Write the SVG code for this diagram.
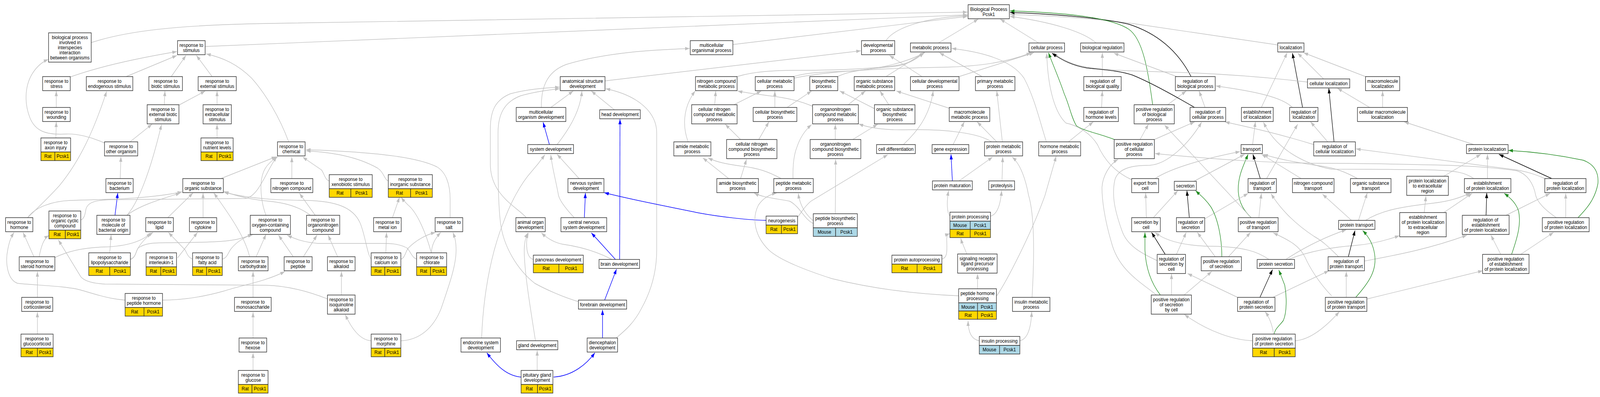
<svg xmlns="http://www.w3.org/2000/svg" width="4578" height="1016" viewBox="0 0 4578 1016" preserveAspectRatio="none" style="width:100vw;height:100vh;display:block">
<defs>
<style>
.n rect{fill:#fff;stroke:#333;stroke-width:1.5}
.n rect.r{fill:#ffd700}
.n rect.m{fill:#add8e6}
text{font-family:"Liberation Sans",Arial,sans-serif;font-size:13px;text-anchor:middle;fill:#000}
#connectors path{fill:none;stroke-width:1.4}
#connectors .g{stroke:#c0c0c0;marker-end:url(#mg)}
#connectors .b{stroke:#0000ff;stroke-width:1.5;marker-end:url(#mb)}
#connectors .k{stroke:#000;stroke-width:1.4;marker-end:url(#mk)}
#connectors .v{stroke:#228b22;stroke-width:1.4;marker-end:url(#mv)}
</style>
<marker id="mg" viewBox="0 0 13 9" refX="13" refY="4.5" markerWidth="13" markerHeight="9" markerUnits="userSpaceOnUse" orient="auto"><path d="M0,0L13,4.5L0,9z" fill="#c0c0c0"/></marker>
<marker id="mb" viewBox="0 0 13 9" refX="13" refY="4.5" markerWidth="13" markerHeight="9" markerUnits="userSpaceOnUse" orient="auto"><path d="M0,0L13,4.5L0,9z" fill="#0000ff"/></marker>
<marker id="mk" viewBox="0 0 13 9" refX="13" refY="4.5" markerWidth="13" markerHeight="9" markerUnits="userSpaceOnUse" orient="auto"><path d="M0,0L13,4.5L0,9z" fill="#000"/></marker>
<marker id="mv" viewBox="0 0 13 9" refX="13" refY="4.5" markerWidth="13" markerHeight="9" markerUnits="userSpaceOnUse" orient="auto"><path d="M0,0L13,4.5L0,9z" fill="#228b22"/></marker>
</defs>
<rect width="4578" height="1016" fill="#fff"/>
<g id="connectors">
<path class="g" d="M261,109 C360,80 500,64 770,60 L2768,31"/>
<path class="g" d="M587,119 L2768,38"/>
<path class="g" d="M2097,114 L2768,42"/>
<path class="g" d="M2535,104 C2560,70 2650,45 2768,40"/>
<path class="g" d="M2685,110 L2799,49"/>
<path class="g" d="M2972,110 L2862,49"/>
<path class="g" d="M3136,110 C3100,80 3000,55 2890,42"/>
<path class="g" d="M3656,115 L3240,60 C3100,45 3000,40 2890,37"/>
<path class="k" d="M3408,196 C3370,130 3310,85 3230,62 C3150,45 3000,35 2890,32"/>
<path class="v" d="M3298,268 C3285,180 3270,100 3230,75 C3180,45 3050,32 2890,28"/>
<path class="g" d="M201,197 C300,165 420,145 506,132"/>
<path class="g" d="M361,196 L506,142"/>
<path class="g" d="M490,196 L532,142"/>
<path class="g" d="M607,196 L562,142"/>
<path class="g" d="M826,363 C800,300 760,240 720,200 C680,165 640,148 590,138"/>
<path class="g" d="M161,275 L161,233"/>
<path class="g" d="M160,353 L161,312"/>
<path class="g" d="M470,268 L472,233"/>
<path class="g" d="M512,269 L587,233"/>
<path class="g" d="M621,268 L621,233"/>
<path class="g" d="M621,353 L621,318"/>
<path class="g" d="M372,363 L435,318"/>
<path class="g" d="M299,366 C260,350 220,342 190,343 C130,346 100,335 85,300 C68,260 72,215 95,185 C110,165 125,157 138,152"/>
<path class="g" d="M344,457 L346,401"/>
<path class="g" d="M79,557 C110,530 140,505 170,475 C230,410 270,330 305,234"/>
<path class="g" d="M79,557 C100,530 150,515 200,513 C300,510 420,510 521,491"/>
<path class="b" d="M329,551 L337,494"/>
<path class="g" d="M363,551 C395,520 430,440 462,319"/>
<path class="g" d="M363,551 C400,525 460,510 516,494"/>
<path class="g" d="M97,657 L66,595"/>
<path class="g" d="M112,657 C118,630 125,610 140,603"/>
<path class="g" d="M157,659 C200,640 250,633 300,632 C370,630 410,615 432,596"/>
<path class="g" d="M314,647 L318,601"/>
<path class="g" d="M373,663 C385,660 388,650 392,640 C400,625 420,605 438,595"/>
<path class="g" d="M373,664 C388,660 388,645 395,635 C420,618 460,622 500,621 C580,620 640,620 680,612 C700,608 712,603 722,600"/>
<path class="g" d="M508,660 L565,595"/>
<path class="g" d="M551,663 C540,660 535,650 530,640 L482,595"/>
<path class="g" d="M636,663 C650,660 652,648 660,638 C675,620 700,606 724,600"/>
<path class="g" d="M733,657 L761,600"/>
<path class="g" d="M714,657 C700,600 640,530 612,494"/>
<path class="g" d="M480,557 L552,494"/>
<path class="g" d="M581,557 L581,494"/>
<path class="g" d="M231,563 C242,560 244,545 246,535 C252,515 280,512 320,511 L700,508 C740,505 760,440 792,401"/>
<path class="g" d="M632,457 L790,401"/>
<path class="g" d="M761,551 C752,530 745,500 747,470 C749,440 760,420 795,401"/>
<path class="g" d="M835,457 L835,402"/>
<path class="g" d="M942,463 C930,460 928,445 920,435 L866,402"/>
<path class="g" d="M1111,463 C1100,460 1098,440 1080,430 C1020,400 950,390 876,386"/>
<path class="g" d="M1288,557 L1288,510 C1288,470 1275,440 1250,427 C1200,405 1100,390 876,383"/>
<path class="g" d="M902,551 L857,495"/>
<path class="g" d="M888,551 C865,535 830,520 770,515 C720,511 680,503 641,490"/>
<path class="g" d="M1062,663 C1050,650 1045,600 1030,570 C1010,530 960,515 880,513 C800,512 720,510 641,492"/>
<path class="g" d="M839,657 L797,602"/>
<path class="g" d="M868,657 L907,602"/>
<path class="g" d="M966,657 L939,602"/>
<path class="g" d="M977,755 L977,695"/>
<path class="g" d="M937,765 C880,745 820,731 760,730 L300,727 C260,725 240,718 231,708 L167,614"/>
<path class="g" d="M358,768 C310,765 270,752 230,742 C190,732 100,730 50,725 C20,715 15,670 22,640 C27,615 33,605 40,595"/>
<path class="g" d="M465,768 C520,768 580,760 640,745 C700,728 760,720 815,695"/>
<path class="g" d="M107,761 L107,695"/>
<path class="g" d="M107,855 L107,799"/>
<path class="g" d="M724,761 L724,695"/>
<path class="g" d="M724,865 L724,799"/>
<path class="g" d="M724,948 L724,903"/>
<path class="g" d="M1123,557 L1143,505"/>
<path class="g" d="M1104,647 L1106,595"/>
<path class="g" d="M1148,663 C1158,660 1160,645 1168,635 C1190,615 1220,600 1246,595"/>
<path class="g" d="M1234,647 C1236,625 1245,610 1261,595"/>
<path class="g" d="M1234,647 C1220,600 1195,545 1168,525 C1160,518 1152,510 1148,505"/>
<path class="g" d="M1192,663 C1180,660 1175,645 1165,635 C1140,622 1110,623 1080,623 L910,623 C870,620 845,612 822,602"/>
<path class="g" d="M1061,872 C1030,870 1005,840 988,805"/>
<path class="g" d="M1148,872 C1200,870 1240,840 1262,790 C1285,730 1305,680 1305,640 C1305,615 1300,605 1296,595"/>
<path class="g" d="M1549,275 C1548,230 1560,185 1620,165 C1750,130 1900,127 1973,124"/>
<path class="g" d="M1731,207 L2463,130"/>
<path class="g" d="M1576,275 L1640,233"/>
<path class="g" d="M1594,370 C1620,340 1660,290 1665,233"/>
<path class="g" d="M1758,281 L1692,233"/>
<path class="g" d="M1763,865 C1790,845 1815,825 1835,790 C1860,750 1879,700 1879,640 L1879,340 C1879,290 1830,245 1733,227"/>
<path class="g" d="M1506,557 C1480,530 1403,500 1403,420 L1403,330 C1403,280 1420,255 1460,240 C1510,228 1560,225 1601,223"/>
<path class="g" d="M1655,772 C1610,760 1560,740 1530,725 C1480,690 1440,630 1432,570 C1425,520 1425,450 1425,340 C1425,290 1445,260 1490,245 C1530,235 1570,230 1601,227"/>
<path class="g" d="M1378,865 C1382,770 1400,660 1440,570 C1460,520 1490,470 1520,440 C1535,425 1548,410 1559,396"/>
<path class="b" d="M1572,370 L1554,313"/>
<path class="g" d="M1657,457 L1594,395"/>
<path class="g" d="M1643,557 C1620,535 1602,515 1598,500 C1590,460 1580,430 1576,396"/>
<path class="b" d="M1672,557 L1675,494"/>
<path class="b" d="M1761,664 L1692,596"/>
<path class="b" d="M1773,664 L1774,305"/>
<path class="g" d="M1751,664 C1700,640 1650,630 1610,625 C1580,620 1560,605 1549,596"/>
<path class="b" d="M1730,768 L1764,689"/>
<path class="b" d="M1724,865 L1724,793"/>
<path class="b" d="M1584,965 C1640,962 1680,930 1702,903"/>
<path class="b" d="M1491,965 C1450,962 1420,935 1393,903"/>
<path class="g" d="M1537,948 L1537,897"/>
<path class="g" d="M1532,872 C1520,800 1500,700 1500,640 C1500,620 1505,605 1510,596"/>
<path class="g" d="M1526,664 C1515,662 1508,650 1507,630 C1506,615 1508,605 1512,596"/>
<path class="b" d="M2192,564 C2140,563 2060,555 2000,545 C1930,532 1860,520 1800,508 C1770,502 1745,497 1729,493"/>
<path class="g" d="M2282,556 C2292,545 2300,530 2320,515 L2540,396"/>
<path class="g" d="M2109,196 C2160,182 2220,180 2290,180 C2400,180 2520,175 2580,165 C2610,158 2630,145 2643,135"/>
<path class="g" d="M2270,196 C2300,188 2330,185 2400,183 C2500,180 2580,165 2646,135"/>
<path class="g" d="M2272,200 C2350,185 2500,175 2700,172 C2800,170 2880,160 2950,135"/>
<path class="g" d="M2045,268 L2048,233"/>
<path class="g" d="M2100,268 L2178,233"/>
<path class="g" d="M2217,275 L2217,233"/>
<path class="g" d="M2252,275 L2322,233"/>
<path class="g" d="M2325,272 C2290,258 2250,250 2200,245 C2160,240 2130,237 2111,233"/>
<path class="g" d="M1969,363 C1955,330 1950,280 1989,233"/>
<path class="g" d="M2119,357 L2075,318"/>
<path class="g" d="M2171,357 L2200,312"/>
<path class="g" d="M2085,457 L2011,404"/>
<path class="g" d="M2119,457 L2136,408"/>
<path class="g" d="M2235,457 C2200,440 2170,430 2120,425 C2080,420 2050,415 2026,404"/>
<path class="g" d="M2269,457 C2268,420 2272,395 2280,377 C2290,350 2305,332 2322,319"/>
<path class="g" d="M2397,196 C2430,180 2500,175 2560,170 C2600,165 2625,150 2643,135"/>
<path class="g" d="M2535,196 L2645,134"/>
<path class="g" d="M2638,196 L2545,142"/>
<path class="g" d="M2744,196 L2958,135"/>
<path class="g" d="M2810,196 L2688,135"/>
<path class="g" d="M2427,268 L2476,233"/>
<path class="g" d="M2543,268 L2518,233"/>
<path class="g" d="M2502,278 L2403,233"/>
<path class="g" d="M2716,277 L2565,233"/>
<path class="g" d="M2390,357 L2390,318"/>
<path class="g" d="M2440,357 L2511,318"/>
<path class="g" d="M2585,370 C2620,340 2660,300 2670,233"/>
<path class="g" d="M2727,370 L2759,312"/>
<path class="g" d="M2852,363 L2796,312"/>
<path class="g" d="M2837,363 C2800,340 2700,330 2600,332 C2520,334 2480,325 2457,317"/>
<path class="g" d="M2868,363 L2852,233"/>
<path class="b" d="M2725,463 L2721,395"/>
<path class="g" d="M2744,463 L2840,402"/>
<path class="g" d="M2867,463 L2869,402"/>
<path class="g" d="M2994,363 C2975,310 2960,250 2930,200 C2900,160 2830,135 2723,124"/>
<path class="g" d="M3057,363 L3128,312"/>
<path class="g" d="M2718,553 C2710,545 2708,520 2714,488"/>
<path class="g" d="M2834,553 C2850,550 2862,530 2866,488"/>
<path class="g" d="M2852,757 C2880,720 2950,600 2990,500 L3022,400"/>
<path class="g" d="M2797,739 L2797,701"/>
<path class="g" d="M2766,650 C2760,635 2752,620 2749,610"/>
<path class="g" d="M2695,663 C2710,660 2710,645 2709,620 C2708,605 2710,600 2717,598"/>
<path class="g" d="M2743,757 C2600,752 2480,735 2380,713 C2300,690 2230,665 2200,640 C2160,605 2150,560 2170,525 C2185,505 2205,497 2222,494"/>
<path class="g" d="M2801,872 C2780,868 2770,850 2770,821"/>
<path class="g" d="M2918,872 C2940,868 2950,840 2952,798"/>
<path class="g" d="M2953,761 C2960,650 2960,550 2943,500 C2935,460 2920,420 2896,402"/>
<path class="g" d="M2327,572 C2300,560 2290,530 2260,515 C2220,508 2180,505 2158,494"/>
<path class="g" d="M2327,565 C2300,545 2288,520 2284,495"/>
<path class="g" d="M2390,547 L2391,408"/>
<path class="g" d="M3154,196 L3154,135"/>
<path class="g" d="M3367,196 L3187,136"/>
<path class="g" d="M3152,275 L3154,233"/>
<path class="g" d="M3341,268 L3394,233"/>
<path class="g" d="M3448,275 L3431,233"/>
<path class="g" d="M3609,275 L3683,135"/>
<path class="k" d="M3727,275 L3698,136"/>
<path class="g" d="M3698,275 C3670,250 3600,235 3479,220"/>
<path class="g" d="M3787,202 L3713,136"/>
<path class="g" d="M3907,196 L3730,135"/>
<path class="g" d="M3741,210 C3600,195 3450,186 3290,183 C3180,180 3110,176 3070,163 C3040,152 3025,145 3015,135"/>
<path class="k" d="M3418,275 C3370,250 3290,210 3240,192 C3200,180 3150,178 3110,174 C3070,168 3040,155 3010,136"/>
<path class="v" d="M3188,357 C3150,343 3100,335 3080,322 C3065,300 3060,270 3045,240 C3030,200 3010,160 3000,135"/>
<path class="g" d="M3238,460 C3190,440 3160,410 3140,370 C3120,340 3080,320 3050,315 C3020,290 2998,230 2995,136"/>
<path class="g" d="M3303,357 L3418,312"/>
<path class="g" d="M3262,357 L3286,318"/>
<path class="g" d="M3759,370 C3650,340 3570,325 3505,312"/>
<path class="g" d="M3799,363 L3750,312"/>
<path class="k" d="M3817,363 L3802,226"/>
<path class="g" d="M3584,370 L3592,312"/>
<path class="k" d="M3606,457 L3585,395"/>
<path class="v" d="M3580,557 C3560,540 3545,520 3543,490 C3541,450 3560,420 3571,395"/>
<path class="g" d="M3305,457 C3350,430 3450,405 3548,388"/>
<path class="g" d="M3416,464 L3561,395"/>
<path class="g" d="M3280,557 L3278,494"/>
<path class="g" d="M3300,557 L3370,488"/>
<path class="k" d="M3403,557 L3396,488"/>
<path class="g" d="M3447,560 L3571,495"/>
<path class="v" d="M3496,657 C3496,610 3485,560 3465,530 C3450,510 3435,500 3421,488"/>
<path class="g" d="M3477,657 L3426,595"/>
<path class="g" d="M3515,657 L3578,595"/>
<path class="k" d="M3334,651 L3295,595"/>
<path class="g" d="M3366,651 L3394,595"/>
<path class="g" d="M3311,667 C3270,650 3225,630 3210,590 C3190,540 3180,500 3190,460 C3200,430 3240,423 3290,423 C3340,420 3400,370 3438,313"/>
<path class="v" d="M3320,755 C3290,720 3278,680 3276,640 L3276,595"/>
<path class="g" d="M3352,755 L3352,701"/>
<path class="g" d="M3388,755 L3467,695"/>
<path class="g" d="M3309,755 C3260,720 3200,690 3180,620 C3160,560 3153,510 3153,480 C3155,450 3175,420 3199,408"/>
<path class="g" d="M3631,664 C3600,645 3560,630 3450,630 C3400,628 3340,620 3305,595"/>
<path class="g" d="M3679,664 C3720,640 3780,610 3852,588"/>
<path class="g" d="M3686,664 C3740,645 3800,633 3880,628 C3930,624 3970,614 4004,603"/>
<path class="k" d="M3605,761 L3641,690"/>
<path class="g" d="M3541,761 L3398,700"/>
<path class="g" d="M3642,761 L3802,693"/>
<path class="v" d="M3646,855 C3648,840 3665,830 3672,820 C3682,800 3682,760 3676,730 L3659,691"/>
<path class="g" d="M3644,855 C3640,830 3630,810 3620,798"/>
<path class="g" d="M3584,872 C3530,870 3460,850 3389,805"/>
<path class="g" d="M3706,872 C3740,870 3780,850 3832,798"/>
<path class="g" d="M3602,557 L3609,495"/>
<path class="g" d="M3580,557 L3332,320"/>
<path class="g" d="M3810,757 C3770,720 3745,680 3735,660 C3720,630 3690,615 3643,596"/>
<path class="g" d="M3624,457 L3713,318"/>
<path class="g" d="M3723,457 L3610,395"/>
<path class="g" d="M3884,457 C3850,440 3820,430 3780,425 C3700,415 3650,405 3615,395"/>
<path class="g" d="M4217,457 C4190,440 4160,437 4100,435 C4000,433 3880,433 3810,433 C3760,425 3720,408 3690,390 C3650,365 3630,340 3615,313"/>
<path class="g" d="M4453,557 C4425,540 4400,520 4394,500 C4388,470 4370,445 4340,437 C4250,425 4150,423 4098,422 C4000,420 3900,418 3810,418 C3650,418 3500,410 3305,393"/>
<path class="g" d="M3867,564 L3784,497"/>
<path class="g" d="M3887,564 L3912,494"/>
<path class="g" d="M3907,564 C3950,540 4000,530 4100,520 C4150,515 4180,505 4207,494"/>
<path class="g" d="M4131,451 L4237,395"/>
<path class="g" d="M4256,457 L4256,395"/>
<path class="k" d="M4440,457 L4289,395"/>
<path class="g" d="M4420,457 C4390,445 4370,440 4340,435 L3880,381"/>
<path class="v" d="M4515,557 C4545,530 4565,505 4572,470 C4575,440 4560,420 4530,410 C4450,395 4380,388 4316,385"/>
<path class="g" d="M4217,370 L4018,312"/>
<path class="g" d="M3956,275 L3956,233"/>
<path class="g" d="M3919,275 L3827,226"/>
<path class="g" d="M4075,544 L4080,502"/>
<path class="g" d="M4131,544 L4212,495"/>
<path class="k" d="M4252,551 L4254,494"/>
<path class="g" d="M4309,551 L4435,495"/>
<path class="v" d="M4325,651 C4345,600 4352,570 4345,540 C4338,520 4320,505 4304,495"/>
<path class="g" d="M4294,651 L4266,602"/>
<path class="g" d="M4351,651 L4445,595"/>
<path class="g" d="M4480,557 L4480,495"/>
<path class="k" d="M3858,657 L3877,590"/>
<path class="g" d="M3904,668 C3980,655 4080,640 4197,602"/>
<path class="g" d="M3830,657 C3810,640 3790,620 3760,605 C3700,570 3660,530 3637,496"/>
<path class="v" d="M3879,761 C3920,720 3940,690 3933,650 C3928,620 3910,600 3899,590"/>
<path class="g" d="M3852,761 L3852,695"/>
<path class="g" d="M3912,765 L4242,693"/>
</g>
<g id="n_bp" class="n"><rect x="2770" y="12" width="118" height="36"/><text x="2829" y="28">Biological Process</text><text x="2829" y="41">Pcsk1</text></g>
<g id="n_interspecies" class="n"><rect x="139" y="84" width="122" height="75"/><text x="200" y="100">biological process</text><text x="200" y="113">involved in</text><text x="200" y="126">interspecies</text><text x="200" y="139">interaction</text><text x="200" y="152">between organisms</text></g>
<g id="n_stim" class="n"><rect x="508" y="104" width="79" height="36"/><text x="547.5" y="120">response to</text><text x="547.5" y="133">stimulus</text></g>
<g id="n_stress" class="n"><rect x="122" y="196" width="79" height="36"/><text x="161.5" y="212">response to</text><text x="161.5" y="225">stress</text></g>
<g id="n_endog" class="n"><rect x="247" y="196" width="133" height="36"/><text x="313.5" y="212">response to</text><text x="313.5" y="225">endogenous stimulus</text></g>
<g id="n_biotic" class="n"><rect x="426" y="196" width="96" height="36"/><text x="474" y="212">response to</text><text x="474" y="225">biotic stimulus</text></g>
<g id="n_extstim" class="n"><rect x="567" y="196" width="109" height="36"/><text x="621.5" y="212">response to</text><text x="621.5" y="225">external stimulus</text></g>
<g id="n_wound" class="n"><rect x="122" y="275" width="79" height="36"/><text x="161.5" y="291">response to</text><text x="161.5" y="304">wounding</text></g>
<g id="n_extbio" class="n"><rect x="421" y="268" width="91" height="49"/><text x="466.5" y="284">response to</text><text x="466.5" y="297">external biotic</text><text x="466.5" y="310">stimulus</text></g>
<g id="n_extracell" class="n"><rect x="581" y="268" width="81" height="49"/><text x="621.5" y="284">response to</text><text x="621.5" y="297">extracellular</text><text x="621.5" y="310">stimulus</text></g>
<g id="n_axon" class="n"><rect x="117" y="353" width="85" height="36"/><text x="159.5" y="369">response to</text><text x="159.5" y="382">axon injury</text><rect class="r" x="117" y="389" width="40" height="22"/><rect class="r" x="157" y="389" width="45" height="22"/><text x="137" y="404">Rat</text><text x="179.5" y="404">Pcsk1</text></g>
<g id="n_otherorg" class="n"><rect x="299" y="363" width="95" height="36"/><text x="346.5" y="379">response to</text><text x="346.5" y="392">other organism</text></g>
<g id="n_nutrient" class="n"><rect x="575" y="353" width="92" height="36"/><text x="621" y="369">response to</text><text x="621" y="382">nutrient levels</text><rect class="r" x="575" y="389" width="46" height="22"/><rect class="r" x="621" y="389" width="46" height="22"/><text x="598" y="404">Rat</text><text x="644" y="404">Pcsk1</text></g>
<g id="n_bact" class="n"><rect x="303" y="457" width="78" height="36"/><text x="342" y="473">response to</text><text x="342" y="486">bacterium</text></g>
<g id="n_orgsub" class="n"><rect x="523" y="457" width="116" height="36"/><text x="581" y="473">response to</text><text x="581" y="486">organic substance</text></g>
<g id="n_chem" class="n"><rect x="794" y="363" width="79" height="36"/><text x="833.5" y="379">response to</text><text x="833.5" y="392">chemical</text></g>
<g id="n_nitro" class="n"><rect x="775" y="457" width="120" height="36"/><text x="835" y="473">response to</text><text x="835" y="486">nitrogen compound</text></g>
<g id="n_xeno" class="n"><rect x="942" y="447" width="123" height="36"/><text x="1003.5" y="463">response to</text><text x="1003.5" y="476">xenobiotic stimulus</text><rect class="r" x="942" y="483" width="62" height="22"/><rect class="r" x="1004" y="483" width="61" height="22"/><text x="973" y="498">Rat</text><text x="1034.5" y="498">Pcsk1</text></g>
<g id="n_inorg" class="n"><rect x="1111" y="447" width="126" height="36"/><text x="1174" y="463">response to</text><text x="1174" y="476">inorganic substance</text><rect class="r" x="1111" y="483" width="64" height="22"/><rect class="r" x="1175" y="483" width="62" height="22"/><text x="1143" y="498">Rat</text><text x="1206" y="498">Pcsk1</text></g>
<g id="n_hormone" class="n"><rect x="16" y="557" width="78" height="36"/><text x="55" y="573">response to</text><text x="55" y="586">hormone</text></g>
<g id="n_orgcyc" class="n"><rect x="140" y="540" width="91" height="49"/><text x="185.5" y="556">response to</text><text x="185.5" y="569">organic cyclic</text><text x="185.5" y="582">compound</text><rect class="r" x="140" y="589" width="47" height="22"/><rect class="r" x="187" y="589" width="44" height="22"/><text x="163.5" y="604">Rat</text><text x="209" y="604">Pcsk1</text></g>
<g id="n_molbac" class="n"><rect x="277" y="551" width="95" height="49"/><text x="324.5" y="567">response to</text><text x="324.5" y="580">molecule of</text><text x="324.5" y="593">bacterial origin</text></g>
<g id="n_lipid" class="n"><rect x="417" y="557" width="79" height="36"/><text x="456.5" y="573">response to</text><text x="456.5" y="586">lipid</text></g>
<g id="n_cytokine" class="n"><rect x="542" y="557" width="78" height="36"/><text x="581" y="573">response to</text><text x="581" y="586">cytokine</text></g>
<g id="n_oxy" class="n"><rect x="716" y="551" width="115" height="49"/><text x="773.5" y="567">response to</text><text x="773.5" y="580">oxygen-containing</text><text x="773.5" y="593">compound</text></g>
<g id="n_orgnitro" class="n"><rect x="877" y="551" width="95" height="49"/><text x="924.5" y="567">response to</text><text x="924.5" y="580">organonitrogen</text><text x="924.5" y="593">compound</text></g>
<g id="n_metal" class="n"><rect x="1069" y="557" width="79" height="36"/><text x="1108.5" y="573">response to</text><text x="1108.5" y="586">metal ion</text></g>
<g id="n_salt" class="n"><rect x="1245" y="557" width="79" height="36"/><text x="1284.5" y="573">response to</text><text x="1284.5" y="586">salt</text></g>
<g id="n_steroid" class="n"><rect x="55" y="657" width="102" height="36"/><text x="106" y="673">response to</text><text x="106" y="686">steroid hormone</text></g>
<g id="n_lps" class="n"><rect x="254" y="647" width="119" height="36"/><text x="313.5" y="663">response to</text><text x="313.5" y="676">lipopolysaccharide</text><rect class="r" x="254" y="683" width="60" height="22"/><rect class="r" x="314" y="683" width="59" height="22"/><text x="284" y="698">Rat</text><text x="343.5" y="698">Pcsk1</text></g>
<g id="n_il1" class="n"><rect x="418" y="647" width="87" height="36"/><text x="461.5" y="663">response to</text><text x="461.5" y="676">interleukin-1</text><rect class="r" x="418" y="683" width="42" height="22"/><rect class="r" x="460" y="683" width="45" height="22"/><text x="439" y="698">Rat</text><text x="482.5" y="698">Pcsk1</text></g>
<g id="n_fatty" class="n"><rect x="551" y="647" width="85" height="36"/><text x="593.5" y="663">response to</text><text x="593.5" y="676">fatty acid</text><rect class="r" x="551" y="683" width="40" height="22"/><rect class="r" x="591" y="683" width="45" height="22"/><text x="571" y="698">Rat</text><text x="613.5" y="698">Pcsk1</text></g>
<g id="n_carb" class="n"><rect x="682" y="657" width="85" height="36"/><text x="724.5" y="673">response to</text><text x="724.5" y="686">carbohydrate</text></g>
<g id="n_peptide" class="n"><rect x="813" y="657" width="80" height="36"/><text x="853" y="673">response to</text><text x="853" y="686">peptide</text></g>
<g id="n_alkaloid" class="n"><rect x="937" y="657" width="79" height="36"/><text x="976.5" y="673">response to</text><text x="976.5" y="686">alkaloid</text></g>
<g id="n_calcium" class="n"><rect x="1062" y="647" width="85" height="36"/><text x="1104.5" y="663">response to</text><text x="1104.5" y="676">calcium ion</text><rect class="r" x="1062" y="683" width="39" height="22"/><rect class="r" x="1101" y="683" width="46" height="22"/><text x="1081.5" y="698">Rat</text><text x="1124" y="698">Pcsk1</text></g>
<g id="n_chlorate" class="n"><rect x="1192" y="647" width="86" height="36"/><text x="1235" y="663">response to</text><text x="1235" y="676">chlorate</text><rect class="r" x="1192" y="683" width="40" height="22"/><rect class="r" x="1232" y="683" width="46" height="22"/><text x="1212" y="698">Rat</text><text x="1255" y="698">Pcsk1</text></g>
<g id="n_cortico" class="n"><rect x="62" y="761" width="89" height="36"/><text x="106.5" y="777">response to</text><text x="106.5" y="790">corticosteroid</text></g>
<g id="n_pephorm" class="n"><rect x="358" y="751" width="107" height="36"/><text x="411.5" y="767">response to</text><text x="411.5" y="780">peptide hormone</text><rect class="r" x="358" y="787" width="54" height="22"/><rect class="r" x="412" y="787" width="53" height="22"/><text x="385" y="802">Rat</text><text x="438.5" y="802">Pcsk1</text></g>
<g id="n_monosac" class="n"><rect x="671" y="761" width="105" height="36"/><text x="723.5" y="777">response to</text><text x="723.5" y="790">monosaccharide</text></g>
<g id="n_isoq" class="n"><rect x="937" y="755" width="79" height="49"/><text x="976.5" y="771">response to</text><text x="976.5" y="784">isoquinoline</text><text x="976.5" y="797">alkaloid</text></g>
<g id="n_glucocort" class="n"><rect x="60" y="855" width="92" height="36"/><text x="106" y="871">response to</text><text x="106" y="884">glucocorticoid</text><rect class="r" x="60" y="891" width="47" height="22"/><rect class="r" x="107" y="891" width="45" height="22"/><text x="83.5" y="906">Rat</text><text x="129.5" y="906">Pcsk1</text></g>
<g id="n_hexose" class="n"><rect x="684" y="865" width="79" height="36"/><text x="723.5" y="881">response to</text><text x="723.5" y="894">hexose</text></g>
<g id="n_morphine" class="n"><rect x="1062" y="855" width="85" height="36"/><text x="1104.5" y="871">response to</text><text x="1104.5" y="884">morphine</text><rect class="r" x="1062" y="891" width="39" height="22"/><rect class="r" x="1101" y="891" width="46" height="22"/><text x="1081.5" y="906">Rat</text><text x="1124" y="906">Pcsk1</text></g>
<g id="n_glucose" class="n"><rect x="682" y="948" width="85" height="36"/><text x="724.5" y="964">response to</text><text x="724.5" y="977">glucose</text><rect class="r" x="682" y="984" width="39" height="22"/><rect class="r" x="721" y="984" width="46" height="22"/><text x="701.5" y="999">Rat</text><text x="744" y="999">Pcsk1</text></g>
<g id="n_anat" class="n"><rect x="1603" y="196" width="128" height="36"/><text x="1667" y="212">anatomical structure</text><text x="1667" y="225">development</text></g>
<g id="n_mcodev" class="n"><rect x="1477" y="275" width="142" height="36"/><text x="1548" y="291">multicellular</text><text x="1548" y="304">organism development</text></g>
<g id="n_head" class="n"><rect x="1716" y="281" width="116" height="23"/><text x="1774" y="297">head development</text></g>
<g id="n_sysdev" class="n"><rect x="1510" y="370" width="131" height="23"/><text x="1575.5" y="386">system development</text></g>
<g id="n_nsdev" class="n"><rect x="1625" y="457" width="103" height="36"/><text x="1676.5" y="473">nervous system</text><text x="1676.5" y="486">development</text></g>
<g id="n_animorg" class="n"><rect x="1476" y="557" width="84" height="36"/><text x="1518" y="573">animal organ</text><text x="1518" y="586">development</text></g>
<g id="n_cns" class="n"><rect x="1605" y="557" width="131" height="36"/><text x="1670.5" y="573">central nervous</text><text x="1670.5" y="586">system development</text></g>
<g id="n_pancreas" class="n"><rect x="1526" y="653" width="143" height="23"/><text x="1597.5" y="669">pancreas development</text><rect class="r" x="1526" y="676" width="73" height="22"/><rect class="r" x="1599" y="676" width="70" height="22"/><text x="1562.5" y="691">Rat</text><text x="1634" y="691">Pcsk1</text></g>
<g id="n_brain" class="n"><rect x="1714" y="664" width="116" height="23"/><text x="1772" y="680">brain development</text></g>
<g id="n_forebrain" class="n"><rect x="1655" y="768" width="138" height="23"/><text x="1724" y="784">forebrain development</text></g>
<g id="n_endocrine" class="n"><rect x="1319" y="865" width="113" height="36"/><text x="1375.5" y="881">endocrine system</text><text x="1375.5" y="894">development</text></g>
<g id="n_gland" class="n"><rect x="1478" y="872" width="118" height="23"/><text x="1537" y="888">gland development</text></g>
<g id="n_dienceph" class="n"><rect x="1680" y="865" width="87" height="36"/><text x="1723.5" y="881">diencephalon</text><text x="1723.5" y="894">development</text></g>
<g id="n_pituitary" class="n"><rect x="1491" y="948" width="91" height="36"/><text x="1536.5" y="964">pituitary gland</text><text x="1536.5" y="977">development</text><rect class="r" x="1491" y="984" width="47" height="22"/><rect class="r" x="1538" y="984" width="44" height="22"/><text x="1514.5" y="999">Rat</text><text x="1560" y="999">Pcsk1</text></g>
<g id="n_mcop" class="n"><rect x="1975" y="104" width="122" height="36"/><text x="2036" y="120">multicellular</text><text x="2036" y="133">organismal process</text></g>
<g id="n_neurogen" class="n"><rect x="2192" y="553" width="90" height="23"/><text x="2237" y="569">neurogenesis</text><rect class="r" x="2192" y="576" width="44" height="22"/><rect class="r" x="2236" y="576" width="46" height="22"/><text x="2214" y="591">Rat</text><text x="2259" y="591">Pcsk1</text></g>
<g id="n_devproc" class="n"><rect x="2465" y="104" width="95" height="36"/><text x="2512.5" y="120">developmental</text><text x="2512.5" y="133">process</text></g>
<g id="n_metab" class="n"><rect x="2605" y="110" width="116" height="23"/><text x="2663" y="126">metabolic process</text></g>
<g id="n_cellproc" class="n"><rect x="2944" y="110" width="102" height="23"/><text x="2995" y="126">cellular process</text></g>
<g id="n_ncmp" class="n"><rect x="1990" y="196" width="119" height="36"/><text x="2049.5" y="212">nitrogen compound</text><text x="2049.5" y="225">metabolic process</text></g>
<g id="n_cmp" class="n"><rect x="2161" y="196" width="111" height="36"/><text x="2216.5" y="212">cellular metabolic</text><text x="2216.5" y="225">process</text></g>
<g id="n_biosyn" class="n"><rect x="2317" y="196" width="80" height="36"/><text x="2357" y="212">biosynthetic</text><text x="2357" y="225">process</text></g>
<g id="n_osmp" class="n"><rect x="2444" y="196" width="116" height="36"/><text x="2502" y="212">organic substance</text><text x="2502" y="225">metabolic process</text></g>
<g id="n_celldev" class="n"><rect x="2605" y="196" width="139" height="36"/><text x="2674.5" y="212">cellular developmental</text><text x="2674.5" y="225">process</text></g>
<g id="n_primary" class="n"><rect x="2791" y="196" width="113" height="36"/><text x="2847.5" y="212">primary metabolic</text><text x="2847.5" y="225">process</text></g>
<g id="n_cncmp" class="n"><rect x="1979" y="268" width="130" height="49"/><text x="2044" y="284">cellular nitrogen</text><text x="2044" y="297">compound metabolic</text><text x="2044" y="310">process</text></g>
<g id="n_cbp" class="n"><rect x="2155" y="275" width="125" height="36"/><text x="2217.5" y="291">cellular biosynthetic</text><text x="2217.5" y="304">process</text></g>
<g id="n_oncmp" class="n"><rect x="2325" y="268" width="131" height="49"/><text x="2390.5" y="284">organonitrogen</text><text x="2390.5" y="297">compound metabolic</text><text x="2390.5" y="310">process</text></g>
<g id="n_osbp" class="n"><rect x="2502" y="268" width="116" height="49"/><text x="2560" y="284">organic substance</text><text x="2560" y="297">biosynthetic</text><text x="2560" y="310">process</text></g>
<g id="n_macro" class="n"><rect x="2716" y="275" width="116" height="36"/><text x="2774" y="291">macromolecule</text><text x="2774" y="304">metabolic process</text></g>
<g id="n_amidemp" class="n"><rect x="1928" y="363" width="106" height="36"/><text x="1981" y="379">amide metabolic</text><text x="1981" y="392">process</text></g>
<g id="n_cncbp" class="n"><rect x="2079" y="357" width="144" height="49"/><text x="2151" y="373">cellular nitrogen</text><text x="2151" y="386">compound biosynthetic</text><text x="2151" y="399">process</text></g>
<g id="n_oncbp" class="n"><rect x="2318" y="357" width="145" height="49"/><text x="2390.5" y="373">organonitrogen</text><text x="2390.5" y="386">compound biosynthetic</text><text x="2390.5" y="399">process</text></g>
<g id="n_celldiff" class="n"><rect x="2508" y="370" width="111" height="23"/><text x="2563.5" y="386">cell differentiation</text></g>
<g id="n_geneexp" class="n"><rect x="2667" y="370" width="105" height="23"/><text x="2719.5" y="386">gene expression</text></g>
<g id="n_protmet" class="n"><rect x="2817" y="363" width="109" height="36"/><text x="2871.5" y="379">protein metabolic</text><text x="2871.5" y="392">process</text></g>
<g id="n_hormmet" class="n"><rect x="2972" y="363" width="120" height="36"/><text x="3032" y="379">hormone metabolic</text><text x="3032" y="392">process</text></g>
<g id="n_amidebp" class="n"><rect x="2051" y="457" width="119" height="36"/><text x="2110.5" y="473">amide biosynthetic</text><text x="2110.5" y="486">process</text></g>
<g id="n_pepmet" class="n"><rect x="2214" y="457" width="113" height="36"/><text x="2270.5" y="473">peptide metabolic</text><text x="2270.5" y="486">process</text></g>
<g id="n_protmat" class="n"><rect x="2668" y="463" width="114" height="23"/><text x="2725" y="479">protein maturation</text></g>
<g id="n_proteol" class="n"><rect x="2829" y="463" width="74" height="23"/><text x="2866" y="479">proteolysis</text></g>
<g id="n_pepbio" class="n"><rect x="2327" y="547" width="126" height="36"/><text x="2390" y="563">peptide biosynthetic</text><text x="2390" y="576">process</text><rect class="m" x="2327" y="583" width="64" height="22"/><rect class="m" x="2391" y="583" width="62" height="22"/><text x="2359" y="598">Mouse</text><text x="2422" y="598">Pcsk1</text></g>
<g id="n_protproc" class="n"><rect x="2718" y="543" width="116" height="23"/><text x="2776" y="559">protein processing</text><rect class="m" x="2718" y="566" width="58" height="21"/><rect class="m" x="2776" y="566" width="58" height="21"/><text x="2747" y="581">Mouse</text><text x="2805" y="581">Pcsk1</text><rect class="r" x="2718" y="587" width="58" height="21"/><rect class="r" x="2776" y="587" width="58" height="21"/><text x="2747" y="602">Rat</text><text x="2805" y="602">Pcsk1</text></g>
<g id="n_autoproc" class="n"><rect x="2552" y="653" width="143" height="23"/><text x="2623.5" y="669">protein autoprocessing</text><rect class="r" x="2552" y="676" width="72" height="22"/><rect class="r" x="2624" y="676" width="71" height="22"/><text x="2588" y="691">Rat</text><text x="2659.5" y="691">Pcsk1</text></g>
<g id="n_sigrec" class="n"><rect x="2740" y="650" width="113" height="49"/><text x="2796.5" y="666">signaling receptor</text><text x="2796.5" y="679">ligand precursor</text><text x="2796.5" y="692">processing</text></g>
<g id="n_pephormproc" class="n"><rect x="2743" y="739" width="108" height="36"/><text x="2797" y="755">peptide hormone</text><text x="2797" y="768">processing</text><rect class="m" x="2743" y="775" width="54" height="21"/><rect class="m" x="2797" y="775" width="54" height="21"/><text x="2770" y="790">Mouse</text><text x="2824" y="790">Pcsk1</text><rect class="r" x="2743" y="796" width="54" height="21"/><rect class="r" x="2797" y="796" width="54" height="21"/><text x="2770" y="811">Rat</text><text x="2824" y="811">Pcsk1</text></g>
<g id="n_insmet" class="n"><rect x="2897" y="761" width="107" height="36"/><text x="2950.5" y="777">insulin metabolic</text><text x="2950.5" y="790">process</text></g>
<g id="n_insproc" class="n"><rect x="2802" y="861" width="116" height="23"/><text x="2860" y="877">insulin processing</text><rect class="m" x="2802" y="884" width="58" height="22"/><rect class="m" x="2860" y="884" width="58" height="22"/><text x="2831" y="899">Mouse</text><text x="2889" y="899">Pcsk1</text></g>
<g id="n_bioreg" class="n"><rect x="3092" y="110" width="124" height="23"/><text x="3154" y="126">biological regulation</text></g>
<g id="n_loc" class="n"><rect x="3656" y="110" width="75" height="23"/><text x="3693.5" y="126">localization</text></g>
<g id="n_regbq" class="n"><rect x="3101" y="196" width="107" height="36"/><text x="3154.5" y="212">regulation of</text><text x="3154.5" y="225">biological quality</text></g>
<g id="n_regbp" class="n"><rect x="3363" y="196" width="114" height="36"/><text x="3420" y="212">regulation of</text><text x="3420" y="225">biological process</text></g>
<g id="n_cellloc" class="n"><rect x="3741" y="202" width="121" height="23"/><text x="3801.5" y="218">cellular localization</text></g>
<g id="n_macroloc" class="n"><rect x="3907" y="196" width="98" height="36"/><text x="3956" y="212">macromolecule</text><text x="3956" y="225">localization</text></g>
<g id="n_reghorm" class="n"><rect x="3101" y="275" width="99" height="36"/><text x="3150.5" y="291">regulation of</text><text x="3150.5" y="304">hormone levels</text></g>
<g id="n_posregbp" class="n"><rect x="3245" y="268" width="115" height="49"/><text x="3302.5" y="284">positive regulation</text><text x="3302.5" y="297">of biological</text><text x="3302.5" y="310">process</text></g>
<g id="n_regcp" class="n"><rect x="3405" y="275" width="102" height="36"/><text x="3456" y="291">regulation of</text><text x="3456" y="304">cellular process</text></g>
<g id="n_estloc" class="n"><rect x="3552" y="275" width="91" height="36"/><text x="3597.5" y="291">establishment</text><text x="3597.5" y="304">of localization</text></g>
<g id="n_regloc" class="n"><rect x="3690" y="275" width="81" height="36"/><text x="3730.5" y="291">regulation of</text><text x="3730.5" y="304">localization</text></g>
<g id="n_cmacroloc" class="n"><rect x="3884" y="275" width="143" height="36"/><text x="3955.5" y="291">cellular macromolecule</text><text x="3955.5" y="304">localization</text></g>
<g id="n_posregcp" class="n"><rect x="3188" y="357" width="115" height="49"/><text x="3245.5" y="373">positive regulation</text><text x="3245.5" y="386">of cellular</text><text x="3245.5" y="399">process</text></g>
<g id="n_transport" class="n"><rect x="3551" y="370" width="61" height="23"/><text x="3581.5" y="386">transport</text></g>
<g id="n_regcellloc" class="n"><rect x="3759" y="363" width="119" height="36"/><text x="3818.5" y="379">regulation of</text><text x="3818.5" y="392">cellular localization</text></g>
<g id="n_protloc" class="n"><rect x="4196" y="370" width="119" height="23"/><text x="4255.5" y="386">protein localization</text></g>
<g id="n_export" class="n"><rect x="3238" y="457" width="77" height="36"/><text x="3276.5" y="473">export from</text><text x="3276.5" y="486">cell</text></g>
<g id="n_secretion" class="n"><rect x="3360" y="464" width="63" height="23"/><text x="3391.5" y="480">secretion</text></g>
<g id="n_regtrans" class="n"><rect x="3571" y="457" width="81" height="36"/><text x="3611.5" y="473">regulation of</text><text x="3611.5" y="486">transport</text></g>
<g id="n_nctrans" class="n"><rect x="3698" y="457" width="119" height="36"/><text x="3757.5" y="473">nitrogen compound</text><text x="3757.5" y="486">transport</text></g>
<g id="n_ostrans" class="n"><rect x="3864" y="457" width="116" height="36"/><text x="3922" y="473">organic substance</text><text x="3922" y="486">transport</text></g>
<g id="n_plextra" class="n"><rect x="4025" y="451" width="119" height="49"/><text x="4084.5" y="467">protein localization</text><text x="4084.5" y="480">to extracellular</text><text x="4084.5" y="493">region</text></g>
<g id="n_estprotloc" class="n"><rect x="4190" y="457" width="133" height="36"/><text x="4256.5" y="473">establishment</text><text x="4256.5" y="486">of protein localization</text></g>
<g id="n_regprotloc" class="n"><rect x="4420" y="457" width="118" height="36"/><text x="4479" y="473">regulation of</text><text x="4479" y="486">protein localization</text></g>
<g id="n_secbycell" class="n"><rect x="3238" y="557" width="82" height="36"/><text x="3279" y="573">secretion by</text><text x="3279" y="586">cell</text></g>
<g id="n_regsec" class="n"><rect x="3366" y="557" width="81" height="36"/><text x="3406.5" y="573">regulation of</text><text x="3406.5" y="586">secretion</text></g>
<g id="n_posregtrans" class="n"><rect x="3543" y="557" width="114" height="36"/><text x="3600" y="573">positive regulation</text><text x="3600" y="586">of transport</text></g>
<g id="n_prottrans" class="n"><rect x="3830" y="564" width="104" height="23"/><text x="3882" y="580">protein transport</text></g>
<g id="n_estextra" class="n"><rect x="4005" y="544" width="133" height="62"/><text x="4071.5" y="560">establishment</text><text x="4071.5" y="573">of protein localization</text><text x="4071.5" y="586">to extracellular</text><text x="4071.5" y="599">region</text></g>
<g id="n_regest" class="n"><rect x="4184" y="551" width="134" height="49"/><text x="4251" y="567">regulation of</text><text x="4251" y="580">establishment</text><text x="4251" y="593">of protein localization</text></g>
<g id="n_posregprotloc" class="n"><rect x="4413" y="557" width="134" height="36"/><text x="4480" y="573">positive regulation</text><text x="4480" y="586">of protein localization</text></g>
<g id="n_regsecbycell" class="n"><rect x="3311" y="651" width="81" height="49"/><text x="3351.5" y="667">regulation of</text><text x="3351.5" y="680">secretion by</text><text x="3351.5" y="693">cell</text></g>
<g id="n_posregsec" class="n"><rect x="3437" y="657" width="115" height="36"/><text x="3494.5" y="673">positive regulation</text><text x="3494.5" y="686">of secretion</text></g>
<g id="n_protsec" class="n"><rect x="3597" y="664" width="107" height="23"/><text x="3650.5" y="680">protein secretion</text></g>
<g id="n_regprottrans" class="n"><rect x="3800" y="657" width="104" height="36"/><text x="3852" y="673">regulation of</text><text x="3852" y="686">protein transport</text></g>
<g id="n_posregest" class="n"><rect x="4242" y="651" width="133" height="49"/><text x="4308.5" y="667">positive regulation</text><text x="4308.5" y="680">of establishment</text><text x="4308.5" y="693">of protein localization</text></g>
<g id="n_posregsecbycell" class="n"><rect x="3294" y="755" width="115" height="49"/><text x="3351.5" y="771">positive regulation</text><text x="3351.5" y="784">of secretion</text><text x="3351.5" y="797">by cell</text></g>
<g id="n_regprotsec" class="n"><rect x="3541" y="761" width="107" height="36"/><text x="3594.5" y="777">regulation of</text><text x="3594.5" y="790">protein secretion</text></g>
<g id="n_posregprottrans" class="n"><rect x="3792" y="761" width="119" height="36"/><text x="3851.5" y="777">positive regulation</text><text x="3851.5" y="790">of protein transport</text></g>
<g id="n_posregprotsec" class="n"><rect x="3584" y="855" width="122" height="36"/><text x="3645" y="871">positive regulation</text><text x="3645" y="884">of protein secretion</text><rect class="r" x="3584" y="891" width="62" height="22"/><rect class="r" x="3646" y="891" width="60" height="22"/><text x="3615" y="906">Rat</text><text x="3676" y="906">Pcsk1</text></g>
</svg>
